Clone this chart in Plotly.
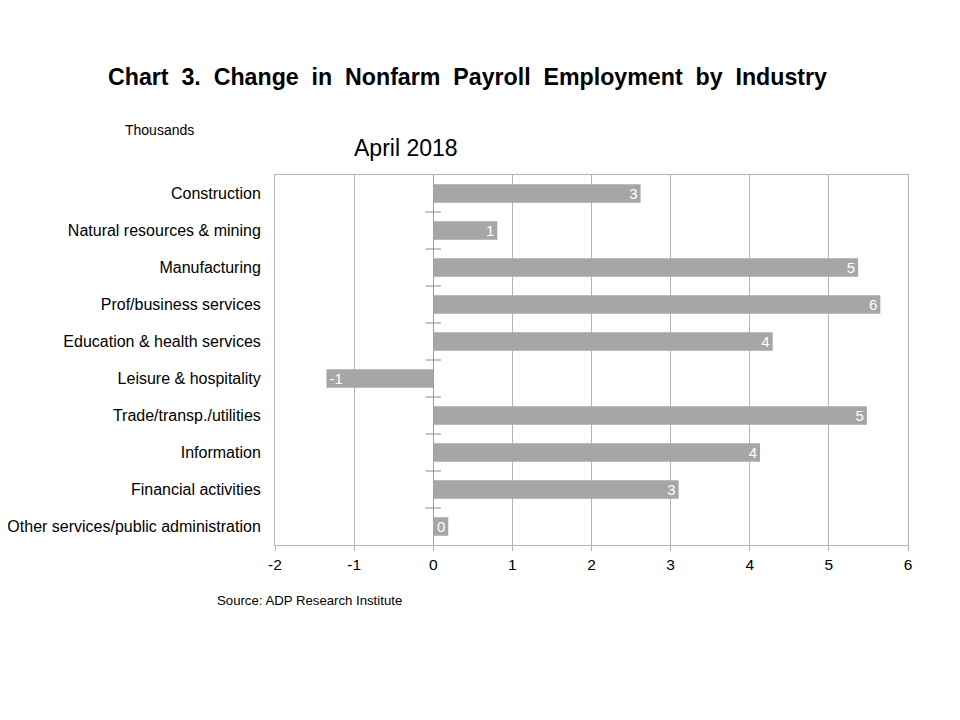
import plotly.graph_objects as go

categories = ["Construction", "Natural resources & mining", "Manufacturing",
              "Prof/business services", "Education & health services",
              "Leisure & hospitality", "Trade/transp./utilities", "Information",
              "Financial activities", "Other services/public administration"]
values = [2.62, 0.81, 5.37, 5.65, 4.29, -1.35, 5.48, 4.13, 3.10, 0.19]
x_ticks = [-2, -1, 0, 1, 2, 3, 4, 5, 6]

FONT = "Liberation Sans, Arial, sans-serif"
GRID = "#b4b4b4"
n = len(categories)

W, H = 960, 720
OFF = 8  # page offset of the figure
L, R, T, B = 275 - OFF, W - (908 - OFF), 175 - OFF, H - (545 - OFF)
PW, PH = W - L - R, H - T - B


def px(X):
    return (X - OFF - L) / PW


def py(Y):
    return (H - B - (Y - OFF)) / PH


title = "Chart 3. Change in Nonfarm Payroll Employment by Industry"
title_html = "<b>" + title.replace(" ", " \u00a0") + "</b>"

fig = go.Figure()
fig.add_trace(go.Bar(
    y=list(range(n)), x=values, orientation="h",
    marker=dict(color="#a6a6a6", line=dict(width=0)),
    text=[f"{v:.0f}" for v in values], textposition="inside",
    insidetextanchor="end", textangle=0, constraintext="none",
    textfont=dict(color="white", size=15, family=FONT),
    width=0.5, showlegend=False, hoverinfo="skip", cliponaxis=False,
))
# category separator ticks on the zero axis
fig.add_trace(go.Scatter(
    x=[0] * (n - 1), y=[i + 0.5 for i in range(n - 1)], mode="markers",
    marker=dict(symbol="line-ew", size=11, line=dict(color="#8c8c8c", width=1)),
    showlegend=False, hoverinfo="skip",
))

fig.update_layout(
    width=W, height=H,
    paper_bgcolor="white", plot_bgcolor="white",
    margin=dict(l=L, r=R, t=T, b=B, autoexpand=False),
    font=dict(family=FONT, color="black"),
    xaxis=dict(range=[-2, 6], tickvals=x_ticks, ticktext=[str(t) for t in x_ticks],
               showgrid=True, gridcolor=GRID, gridwidth=1,
               zeroline=True, zerolinecolor="#9a9a9a", zerolinewidth=1,
               showline=True, linecolor=GRID, linewidth=1, mirror=True,
               ticks="outside", ticklen=5, tickcolor=GRID, automargin=False,
               tickfont=dict(size=15.5, family=FONT), fixedrange=True),
    yaxis=dict(range=[n - 0.5, -0.5], tickvals=list(range(n)), ticktext=categories,
               showgrid=False, zeroline=False, automargin=False,
               showline=True, linecolor=GRID, linewidth=1, mirror=True,
               ticks="", ticklabelstandoff=10,
               tickfont=dict(size=16, family=FONT), fixedrange=True),
    bargap=0.5,
    annotations=[
        dict(text=title_html, xanchor="center", yanchor="middle",
             x=px(467), y=py(77), xref="paper", yref="paper", showarrow=False,
             font=dict(size=23.2, family=FONT)),
        dict(text="Thousands", x=px(123), y=py(130), xref="paper", yref="paper",
             xanchor="left", yanchor="middle", showarrow=False,
             font=dict(size=14, family=FONT)),
        dict(text="April 2018", x=px(406), y=py(148), xref="paper", yref="paper",
             xanchor="center", yanchor="middle",
             showarrow=False, font=dict(size=23, family=FONT)),
        dict(text="Source: ADP Research Institute", x=px(215), y=py(600),
             xref="paper", yref="paper", xanchor="left", yanchor="middle",
             showarrow=False, font=dict(size=13.2, family=FONT)),
    ],
)
fig.write_html("out.html")
